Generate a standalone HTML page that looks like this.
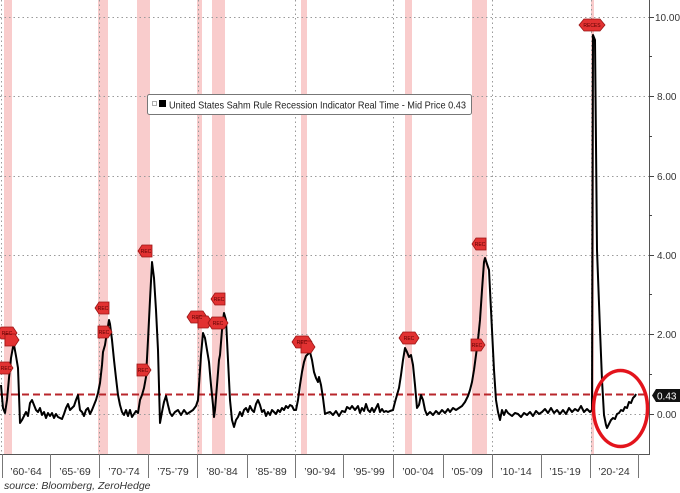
<!DOCTYPE html>
<html><head><meta charset="utf-8"><style>
html,body{margin:0;padding:0;background:#fff;}
svg{display:block;}
text{font-family:"Liberation Sans",sans-serif;}
</style></head><body>
<svg width="680" height="493" viewBox="0 0 680 493" xmlns="http://www.w3.org/2000/svg">
<rect width="680" height="493" fill="#fff"/>
<!-- recession bands -->
<g fill="#f9cccc">
<rect x="4" y="0" width="8" height="454"/>
<rect x="98" y="0" width="10" height="454"/>
<rect x="137" y="0" width="13" height="454"/>
<rect x="197" y="0" width="5" height="454"/>
<rect x="212" y="0" width="13" height="454"/>
<rect x="301" y="0" width="6" height="454"/>
<rect x="405" y="0" width="7" height="454"/>
<rect x="472" y="0" width="15" height="454"/>
<rect x="591" y="0" width="3" height="454"/>
</g>
<!-- grid -->
<g stroke="#9a9a9a" stroke-width="1" stroke-dasharray="1.5,3" fill="none">
<line x1="0" y1="17.5" x2="649" y2="17.5"/>
<line x1="0" y1="96.5" x2="649" y2="96.5"/>
<line x1="0" y1="176.5" x2="649" y2="176.5"/>
<line x1="0" y1="255.5" x2="649" y2="255.5"/>
<line x1="0" y1="334.5" x2="649" y2="334.5"/>
<line x1="0" y1="414.5" x2="649" y2="414.5"/>
<line x1="1.5" y1="0" x2="1.5" y2="454"/>
<line x1="99.5" y1="0" x2="99.5" y2="454"/>
<line x1="198.5" y1="0" x2="198.5" y2="454"/>
<line x1="295.5" y1="0" x2="295.5" y2="454"/>
<line x1="393.5" y1="0" x2="393.5" y2="454"/>
<line x1="492.5" y1="0" x2="492.5" y2="454"/>
<line x1="591.5" y1="0" x2="591.5" y2="454"/>
</g>
<!-- axes -->
<g stroke="#555" stroke-width="1">
<line x1="0" y1="454.5" x2="649" y2="454.5"/>
<line x1="649.5" y1="0" x2="649.5" y2="455"/>
</g>
<g stroke="#777" stroke-width="1">
<line x1="2.5" y1="454" x2="2.5" y2="478"/>
<line x1="50.5" y1="454" x2="50.5" y2="478"/>
<line x1="99.5" y1="454" x2="99.5" y2="478"/>
<line x1="148.5" y1="454" x2="148.5" y2="478"/>
<line x1="197.5" y1="454" x2="197.5" y2="478"/>
<line x1="247.5" y1="454" x2="247.5" y2="478"/>
<line x1="295.5" y1="454" x2="295.5" y2="478"/>
<line x1="343.5" y1="454" x2="343.5" y2="478"/>
<line x1="393.5" y1="454" x2="393.5" y2="478"/>
<line x1="443.5" y1="454" x2="443.5" y2="478"/>
<line x1="492.5" y1="454" x2="492.5" y2="478"/>
<line x1="541.5" y1="454" x2="541.5" y2="478"/>
<line x1="590.5" y1="454" x2="590.5" y2="478"/>
<line x1="638.5" y1="454" x2="638.5" y2="478"/>
</g>
<g stroke="#444" stroke-width="1">
<line x1="649" y1="17.5" x2="654" y2="17.5"/>
<line x1="649" y1="96.5" x2="654" y2="96.5"/>
<line x1="649" y1="176.5" x2="654" y2="176.5"/>
<line x1="649" y1="255.5" x2="654" y2="255.5"/>
<line x1="649" y1="334.5" x2="654" y2="334.5"/>
<line x1="649" y1="414.5" x2="654" y2="414.5"/>
<line x1="649" y1="56.5" x2="652" y2="56.5"/>
<line x1="649" y1="136.5" x2="652" y2="136.5"/>
<line x1="649" y1="215.5" x2="652" y2="215.5"/>
<line x1="649" y1="294.5" x2="652" y2="294.5"/>
<line x1="649" y1="374.5" x2="652" y2="374.5"/>
</g>
<g font-size="10" fill="#333">
<text x="655" y="21">10.00</text>
<text x="657" y="100">8.00</text>
<text x="657" y="180">6.00</text>
<text x="657" y="259">4.00</text>
<text x="657" y="338">2.00</text>
<text x="657" y="418">0.00</text>
</g>
<!-- dashed threshold -->
<line x1="0" y1="394.5" x2="649" y2="394.5" stroke="#b8262b" stroke-width="2" stroke-dasharray="7,4"/>
<!-- series -->
<polyline fill="none" stroke="#000" stroke-width="2" stroke-linejoin="round" points="1,385 3,408 5,413 7,400 9,378 11,358 13,347 14,345 16,356 18,368 19,395 20,423 22,420 24,416 26,412 28,416 30,403 32,400 34,405 36,410 38,412 40,408 42,415 44,412 46,418 48,413 50,416 52,413 54,418 56,414 58,417 60,418 62,419 64,414 66,408 68,404 70,410 72,408 74,406 76,400 78,395 80,410 82,412 84,416 86,410 88,408 90,414 92,410 94,405 96,400 98,393 100,383 102,365 103,352 105,345 107,332 109,320 110,324 112,340 114,360 116,378 118,395 120,405 122,412 124,415 126,410 128,416 130,410 132,417 134,414 136,411 138,413 140,400 142,395 144,388 146,377 148,340 150,300 152,262 154,278 156,310 158,350 160,423 162,412 164,402 166,396 168,405 170,413 172,416 175,412 178,410 181,415 184,410 187,414 190,412 193,410 196,406 198,400 199,385 201,355 203,333 205,338 207,350 209,362 211,385 213,405 214,417 215,410 217,385 219,360 220,355 222,330 223,320 224,313 226,320 228,360 230,400 232,420 234,427 236,420 238,417 240,412 242,416 244,410 246,408 248,412 250,406 252,410 254,412 256,404 258,400 260,405 262,412 264,410 266,416 268,412 270,415 272,410 274,412 276,414 278,410 280,412 282,408 284,410 286,406 288,408 290,405 292,406 294,410 296,410 298,400 300,385 302,372 304,362 306,356 308,354 310,352 312,360 314,372 316,378 318,382 319,377 321,385 323,398 325,414 327,413 330,412 333,415 336,411 339,416 342,411 345,412 347,407 350,409 352,406 355,410 358,406 360,413 362,408 364,411 366,404 368,410 370,412 372,408 374,412 376,408 378,404 380,412 382,409 384,412 386,411 388,412 390,411 393,410 395,402 397,395 399,388 401,375 403,360 405,348 407,352 409,357 411,355 413,365 415,385 417,408 419,405 421,395 423,400 425,410 427,415 430,412 433,415 436,411 439,414 442,410 445,413 448,409 450,412 453,408 456,410 459,408 462,406 465,402 468,396 470,390 472,382 474,370 476,355 478,340 480,320 482,290 484,262 485,258 487,264 489,270 490,290 492,330 494,370 496,400 498,412 500,420 502,410 504,415 506,410 508,413 512,416 515,413 518,414 521,417 524,413 527,415 530,412 533,416 536,411 539,414 542,412 545,409 548,413 551,408 554,413 557,410 560,414 563,410 566,414 569,408 572,412 575,409 578,411 581,406 584,412 587,409 590,412 592,410 593,35 595,40 597,250 600,330 602,380 604,415 606,425 607,428 609,424 611,420 613,418 615,419 617,414 619,413 621,410 623,411 625,407 627,408 629,402 631,403 633,398 635,396 636,394"/>
<!-- REC markers -->
<defs>
<polygon id="hx" points="-10,0 -6,-6 6,-6 10,0 6,6 -6,6"/>
<polygon id="ra" points="-7,-6 3,-6 7,0 3,6 -7,6"/>
<polygon id="la" points="7,-6 -3,-6 -7,0 -3,6 7,6"/>
</defs>
<g fill="#e23232" stroke="#9a1515" stroke-width="0.8">
<use href="#hx" x="7" y="333"/><use href="#ra" x="12" y="340"/><use href="#ra" x="6" y="368"/>
<use href="#la" x="102" y="308"/><use href="#ra" x="105" y="332"/>
<use href="#la" x="145" y="251"/><use href="#ra" x="144" y="370"/>
<use href="#hx" x="197" y="317"/><use href="#ra" x="205" y="322"/>
<use href="#la" x="218" y="299"/><use href="#hx" x="218" y="323"/>
<use href="#hx" x="302" y="342"/><use href="#ra" x="308" y="347"/>
<use href="#hx" x="409" y="338"/>
<use href="#la" x="479" y="244"/><use href="#ra" x="478" y="345"/>
<polygon points="579,25 584,19 600,19 605,25 600,31 584,31"/>
</g>
<g font-size="5" fill="#5a0000" text-anchor="middle">
<text x="7" y="335">REC</text><text x="6" y="370">REC</text>
<text x="103" y="310">REC</text><text x="104" y="334">REC</text>
<text x="146" y="253">REC</text><text x="143" y="372">REC</text>
<text x="197" y="319">REC</text><text x="219" y="301">REC</text><text x="218" y="325">REC</text>
<text x="302" y="344">REC</text><text x="409" y="340">REC</text>
<text x="480" y="246">REC</text><text x="477" y="347">REC</text>
<text x="592" y="27">RECES</text>
</g>
<!-- last value label -->
<polygon points="652,395.5 656,389 680,389 680,402 656,402" fill="#111"/>
<text x="657" y="399.5" font-size="10" fill="#fff">0.43</text>
<!-- red ellipse -->
<ellipse cx="620.5" cy="408.5" rx="27" ry="38" fill="none" stroke="#e3141c" stroke-width="3.5"/>
<!-- legend -->
<rect x="147.5" y="94.5" width="324" height="20" rx="2" fill="#fff" stroke="#777" stroke-width="1"/>
<rect x="152.5" y="101.5" width="4" height="4" fill="none" stroke="#999" stroke-width="0.8"/>
<rect x="159" y="100" width="7" height="7" fill="#000"/>
<text x="169" y="108.5" font-size="10.5" fill="#222" textLength="297" lengthAdjust="spacingAndGlyphs">United States Sahm Rule Recession Indicator Real Time - Mid Price 0.43</text>
<!-- x labels -->
<g font-size="10.5" fill="#333" text-anchor="middle">
<text x="26" y="475">’60-’64</text>
<text x="75" y="475">’65-’69</text>
<text x="124" y="475">’70-’74</text>
<text x="173" y="475">’75-’79</text>
<text x="222" y="475">’80-’84</text>
<text x="271" y="475">’85-’89</text>
<text x="320" y="475">’90-’94</text>
<text x="369" y="475">’95-’99</text>
<text x="418" y="475">’00-’04</text>
<text x="467" y="475">’05-’09</text>
<text x="516" y="475">’10-’14</text>
<text x="565" y="475">’15-’19</text>
<text x="614" y="475">’20-’24</text>
</g>
<text x="4" y="489" font-size="10.5" font-style="italic" fill="#333">source: Bloomberg, ZeroHedge</text>
</svg>
</body></html>
